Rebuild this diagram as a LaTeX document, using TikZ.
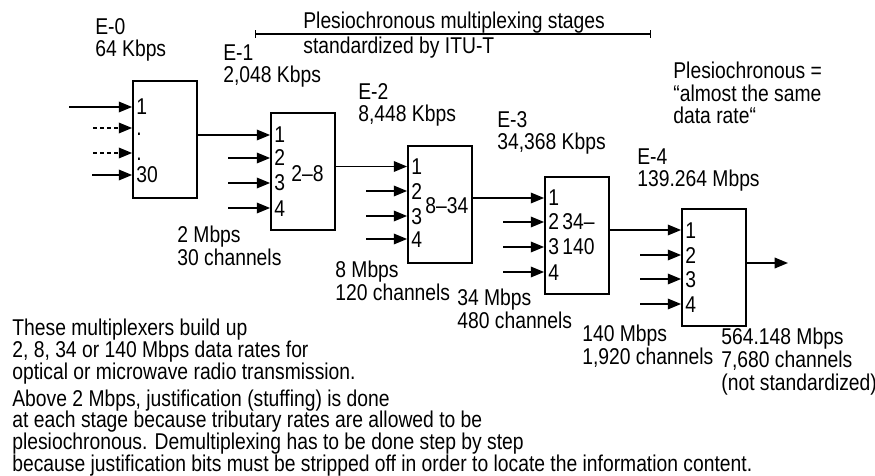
\documentclass[tikz,border=0pt]{standalone}
\usepackage{fontspec}
\setmainfont{Liberation Sans}[FakeStretch=0.845]
\usetikzlibrary{arrows.meta}
\begin{document}
\begin{tikzpicture}[x=0.02cm,y=-0.02cm,
  every node/.style={inner sep=0pt, font=\fontsize{13}{13}\selectfont},
  lbl/.style={anchor=base west, align=left},
  note/.style={anchor=base west, align=left, font=\fontsize{13}{12.3}\selectfont},
  box/.style={draw, line width=1pt, minimum width=1.28cm, minimum height=2.34cm},
  arr/.style={line width=1pt, -{Triangle[length=7.6pt,width=6pt]}},
  dotline/.style={dash pattern=on 2.2pt off 1.8pt}]
\useasboundingbox (0,0) rectangle (875,476);

% boxes
\node[box] (b0) at (165,139.5) {};
\node[box] (b1) at (303,171.5) {};
\node[box] (b2) at (440,204.5) {};
\node[box] (b3) at (577,235.5) {};
\node[box] (b4) at (714,267.5) {};

% numbers in box 0
\node[lbl] (n01) at (136,115) {1};
\node[lbl] (n02) at (136,136) {.};
\node[lbl] (n03) at (136,161) {.};
\node[lbl] (n04) at (136,183) {30};
% box 1
\node[lbl] (n11) at (274,143) {1};
\node[lbl] (n12) at (274,166) {2};
\node[lbl] (n13) at (274,191) {3};
\node[lbl] (n14) at (274,216) {4};
\node[lbl] (m1) at (291,182) {2–8};
% box 2
\node[lbl] (n21) at (411,174) {1};
\node[lbl] (n22) at (411,199) {2};
\node[lbl] (n23) at (411,224) {3};
\node[lbl] (n24) at (411,247) {4};
\node[lbl] (m2) at (425,214) {8–34};
% box 3
\node[lbl] (n31) at (548,206) {1};
\node[lbl] (n32) at (548,230) {2};
\node[lbl] (n33) at (548,255) {3};
\node[lbl] (n34) at (548,280) {4};
\node[lbl] (m3a) at (562,230) {34–};
\node[lbl] (m3b) at (562,255) {140};
% box 4
\node[lbl] (n41) at (685,238) {1};
\node[lbl] (n42) at (685,263) {2};
\node[lbl] (n43) at (685,287) {3};
\node[lbl] (n44) at (685,312) {4};

% input start points
\coordinate (s01) at (69,107);
\coordinate (s02) at (93,128);
\coordinate (s03) at (93,153);
\coordinate (s04) at (92,175);
\coordinate (s12) at (228,158);
\coordinate (s13) at (228,183);
\coordinate (s14) at (228,208);
\coordinate (s22) at (366,191);
\coordinate (s23) at (366,216);
\coordinate (s24) at (366,239);
\coordinate (s32) at (503,222);
\coordinate (s33) at (503,247);
\coordinate (s34) at (503,272);
\coordinate (s42) at (640,255);
\coordinate (s43) at (640,279);
\coordinate (s44) at (640,304);
\coordinate (out) at (788,263);

% inputs
\draw[arr] (s01) -- (s01 -| b0.west);
\draw[arr, dotline] (s02) -- (s02 -| b0.west);
\draw[arr, dotline] (s03) -- (s03 -| b0.west);
\draw[arr] (s04) -- (s04 -| b0.west);
\foreach \b/\i in {1/2,1/3,1/4,2/2,2/3,2/4,3/2,3/3,3/4,4/2,4/3,4/4}
  \draw[arr] (s\b\i) -- (s\b\i -| b\b.west);

% links between stages
\draw[arr] (b0.east |- 0,135) -- (b1.west |- 0,135);
\draw[arr] (b1.east |- 0,166.5) -- (b2.west |- 0,166.5);
\draw[arr] (b2.east |- 0,198) -- (b3.west |- 0,198);
\draw[arr] (b3.east |- 0,230) -- (b4.west |- 0,230);
\draw[arr] (b4.east |- out) -- (out);

% stage labels (base = last line)
\node[lbl] (e0) at (95,57) {E-0\\64 Kbps};
\node[lbl] (e1) at (223,83) {E-1\\2,048 Kbps};
\node[lbl] (e2) at (358,122) {E-2\\8,448 Kbps};
\node[lbl] (e3) at (497,150) {E-3\\34,368 Kbps};
\node[lbl] (e4) at (637,187) {E-4\\139.264 Mbps};

% bracket
\coordinate (bl) at (255,34);
\coordinate (br) at (651,34);
\draw[line width=0.7pt, {Bar[width=4.5pt]}-{Bar[width=4.5pt]}] (bl) -- (br);
\node[lbl] (pt1) at (303,29) {Plesiochronous multiplexing stages};
\node[lbl] (pt2) at (303,54) {standardized by ITU-T};

\node[lbl] (pdef) at (673,124) {Plesiochronous =\\“almost the same\\data rate“};

% rate labels
\node[lbl] (r1) at (177,265) {2 Mbps\\30 channels};
\node[lbl] (r2) at (335,300) {8 Mbps\\120 channels};
\node[lbl] (r3) at (457,328) {34 Mbps\\480 channels};
\node[lbl] (r4) at (582,364) {140 Mbps\\1,920 channels};
\node[lbl] (r5) at (721,390) {564.148 Mbps\\7,680 channels\\(not standardized)};

% notes
\node[note] (t1) at (12,379) {These multiplexers build up\\2, 8, 34 or 140 Mbps data rates for\\optical or microwave radio transmission.};
\node[note] (t2) at (12,471) {Above 2 Mbps, justification (stuffing) is done\\at each stage because tributary rates are allowed to be\\plesiochronous. Demultiplexing has to be done step by step\\because justification bits must be stripped off in order to locate the information content.};
\end{tikzpicture}
\end{document}
